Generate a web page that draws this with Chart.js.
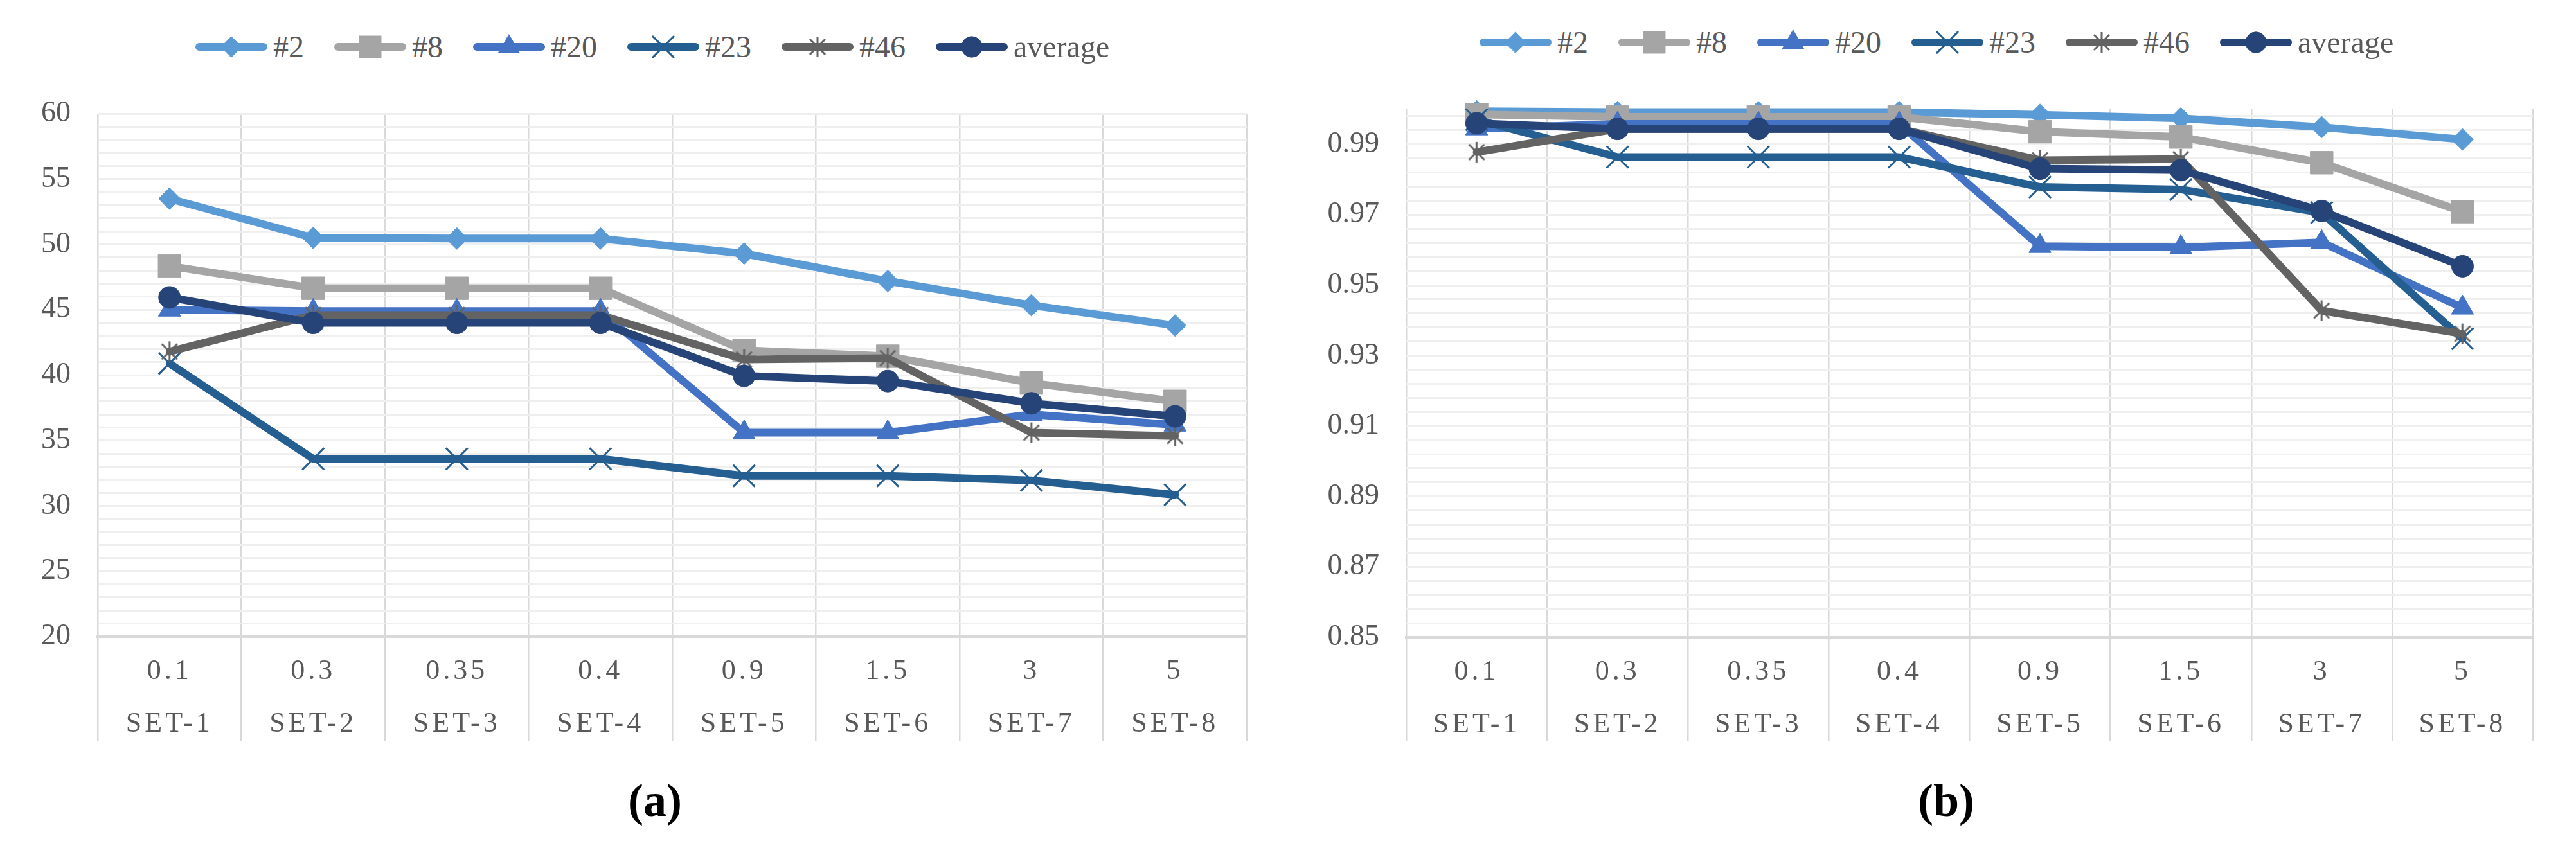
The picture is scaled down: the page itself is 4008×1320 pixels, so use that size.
<!DOCTYPE html>
<html>
<head>
<meta charset="utf-8">
<script src="https://cdn.jsdelivr.net/npm/chart.js@4.4.0/dist/chart.umd.min.js"></script>
<style>
  body { margin: 0; background: #fff; width: 4008px; height: 1320px; position: relative; overflow: hidden; font-family: 'Liberation Serif', 'Times New Roman', serif; }
  .panel { position: absolute; top: 0; width: 2004px; height: 1320px; }
  .plot { position: absolute; left: 0; top: 0; width: 2004px; height: 1180px; }
  .legend { position: absolute; display: flex; align-items: center; font-size: 48px; color: #595959; white-space: nowrap; }
  .legend .item { display: flex; align-items: center; margin-right: 46px; }
  .legend canvas { margin-right: 8px; }
  .caption { position: absolute; top: 1205px; width: 400px; text-align: center; font-weight: bold; font-size: 72px; color: #000; }
</style>
</head>
<body>
<div class="panel" style="left:0">
  <div class="legend" id="legendA" style="left:303px;top:45px"></div>
  <div class="plot"><canvas id="chartA"></canvas></div>
  <div class="caption" style="left:819px">(a)</div>
</div>
<div class="panel" style="left:2004px">
  <div class="legend" id="legendB" style="left:297px;top:38px"></div>
  <div class="plot"><canvas id="chartB"></canvas></div>
  <div class="caption" style="left:824px">(b)</div>
</div>
<script>
// categories
const sigmaLabels = ['0.1', '0.3', '0.35', '0.4', '0.9', '1.5', '3', '5'];
const setLabels = ['SET-1', 'SET-2', 'SET-3', 'SET-4', 'SET-5', 'SET-6', 'SET-7', 'SET-8'];
const seriesNames = ['#2', '#8', '#20', '#23', '#46', 'average'];

// (a)
const aS2 = [53.5, 50.5, 50.45, 50.45, 49.3, 47.2, 45.35, 43.8];
const aS8 = [48.35, 46.65, 46.65, 46.65, 41.9, 41.45, 39.4, 38.0];
const aS20 = [45.0, 44.9, 44.9, 44.9, 35.6, 35.6, 37.0, 36.2];
const aS23 = [40.9, 33.6, 33.6, 33.6, 32.3, 32.3, 31.95, 30.85];
const aS46 = [41.8, 44.6, 44.6, 44.6, 41.2, 41.3, 35.6, 35.35];
const aAvg = [45.95, 44.0, 44.0, 44.0, 39.95, 39.55, 37.85, 36.85];

// (b)
const bS2 = [0.9994, 0.9992, 0.9992, 0.9992, 0.9984, 0.9974, 0.9949, 0.9914];
const bS8 = [0.9985, 0.9978, 0.9978, 0.9978, 0.9936, 0.9921, 0.9848, 0.9709];
const bS20 = [0.9945, 0.9958, 0.9958, 0.9958, 0.9611, 0.9607, 0.9622, 0.9436];
const bS23 = [0.9970, 0.9864, 0.9864, 0.9864, 0.9779, 0.9772, 0.9706, 0.9348];
const bS46 = [0.9878, 0.9944, 0.9944, 0.9944, 0.9855, 0.9858, 0.9428, 0.9362];
const bAvg = [0.9960, 0.9944, 0.9944, 0.9944, 0.9831, 0.9827, 0.9711, 0.9554];

const colors = ['#5B9BD5', '#A5A5A5', '#4472C4', '#255E91', '#636363', '#264478'];
const serif = "'Liberation Serif', 'Times New Roman', serif";

// asterisk marker like excel's "star"
function makeStar(color) {
    const c = document.createElement('canvas');
    c.width = 36; c.height = 36;
    const g = c.getContext('2d');
    g.strokeStyle = color;
    g.lineWidth = 3;
    g.beginPath();
    g.moveTo(18, 2); g.lineTo(18, 34);
    g.moveTo(6, 6); g.lineTo(30, 30);
    g.moveTo(30, 6); g.lineTo(6, 30);
    g.stroke();
    return c;
}
const starMarker = makeStar(colors[4]);
const markerStyles = ['rectRot', 'rect', 'triangle', 'crossRot', starMarker, 'circle'];
const markerRadius = [17, 25, 20, 24, 18, 17];

function buildDatasets(seriesList) {
    return seriesList.map((values, i) => ({
        label: seriesNames[i],
        data: values,
        borderColor: colors[i],
        backgroundColor: colors[i],
        borderWidth: 12,
        borderCapStyle: 'round',
        borderJoinStyle: 'round',
        pointStyle: markerStyles[i],
        pointRadius: markerRadius[i],
        pointBorderColor: colors[i],
        pointBackgroundColor: colors[i],
        pointBorderWidth: i === 3 ? 3 : 1,
        tension: 0,
        clip: false,
        order: seriesList.length - i
    }));
}

function buildLegend(id) {
    const box = document.getElementById(id);
    seriesNames.forEach((name, i) => {
        const item = document.createElement('span');
        item.className = 'item';
        const c = document.createElement('canvas');
        c.width = 114; c.height = 40;
        const g = c.getContext('2d');
        g.strokeStyle = colors[i];
        g.lineWidth = 12;
        g.lineCap = 'round';
        g.beginPath();
        g.moveTo(7, 20); g.lineTo(107, 20);
        g.stroke();
        if (i === 4) {
            g.drawImage(starMarker, 57 - 18, 20 - 18);
        } else {
            g.fillStyle = colors[i];
            g.strokeStyle = colors[i];
            g.lineWidth = i === 3 ? 3 : 1;
            Chart.helpers.drawPoint(g, {
                pointStyle: markerStyles[i],
                radius: i === 1 ? 24 : markerRadius[i] * 0.95,
                borderWidth: i === 3 ? 3 : 1
            }, 57, 20);
        }
        item.appendChild(c);
        const t = document.createElement('span');
        t.textContent = name;
        item.appendChild(t);
        box.appendChild(item);
    });
}

// spread letters of the x labels a bit, like the original
const spacedLabels = {
    id: 'spacedLabels',
    beforeDraw(chart) {
        const s = chart.scales.x;
        if (s._spaced) return;
        const orig = s.drawLabels;
        s.drawLabels = function (area) {
            const c = this.ctx;
            c.save();
            c.letterSpacing = '5px';
            orig.call(this, area);
            c.restore();
        };
        s._spaced = true;
    }
};

function makeChart(canvasId, seriesList, yMin, yMax, minorStep, majorStep, decimals, pad) {
    const ctx = document.getElementById(canvasId).getContext('2d');
    return new Chart(ctx, {
        type: 'line',
        data: {
            labels: sigmaLabels.map((s, i) => [s, setLabels[i]]),
            datasets: buildDatasets(seriesList)
        },
        plugins: [spacedLabels],
        options: {
            responsive: true,
            maintainAspectRatio: false,
            animation: false,
            devicePixelRatio: 1,
            layout: { padding: { top: pad.top, right: pad.right, bottom: 0, left: 0 } },
            plugins: {
                legend: { display: false },
                tooltip: { enabled: false }
            },
            scales: {
                x: {
                    offset: true,
                    grid: { offset: true, color: '#d9d9d9', lineWidth: 2.5, tickLength: 162, tickColor: '#d9d9d9', tickWidth: 2.5 },
                    border: { color: '#d9d9d9', width: 4 },
                    ticks: {
                        autoSkip: false, maxRotation: 0, minRotation: 0,
                        color: '#595959',
                        font: { family: serif, size: 44, lineHeight: 1.86 },
                        padding: -148
                    },
                    afterFit: (s) => { s.height = pad.xHeight; }
                },
                y: {
                    min: yMin,
                    max: yMax,
                    grid: { color: '#efefef', lineWidth: 3, drawTicks: false },
                    border: { display: false },
                    afterBuildTicks: (axis) => {
                        const ticks = [];
                        const n = Math.floor((yMax - yMin) / minorStep + 1e-6);
                        for (let i = 0; i <= n; i++) ticks.push({ value: +(yMin + i * minorStep).toFixed(6) });
                        axis.ticks = ticks;
                    },
                    ticks: {
                        autoSkip: false,
                        color: '#595959',
                        font: { family: serif, size: 46 },
                        padding: 42,
                        callback: (value) => {
                            const k = (value - yMin) / majorStep;
                            return Math.abs(k - Math.round(k)) < 1e-6 ? value.toFixed(decimals) : '';
                        }
                    },
                    afterFit: (s) => { s.width = pad.left; }
                }
            }
        }
    });
}

buildLegend('legendA');
buildLegend('legendB');

makeChart('chartA', [aS2, aS8, aS20, aS23, aS46, aAvg], 20, 60, 1, 5, 0,
    { top: 177, right: 64, left: 152, xHeight: 189 });
makeChart('chartB', [bS2, bS8, bS20, bS23, bS46, bAvg], 0.85, 1.0, 0.004, 0.02, 2,
    { top: 170, right: 67, left: 184, xHeight: 188 });
</script>
</body>
</html>
